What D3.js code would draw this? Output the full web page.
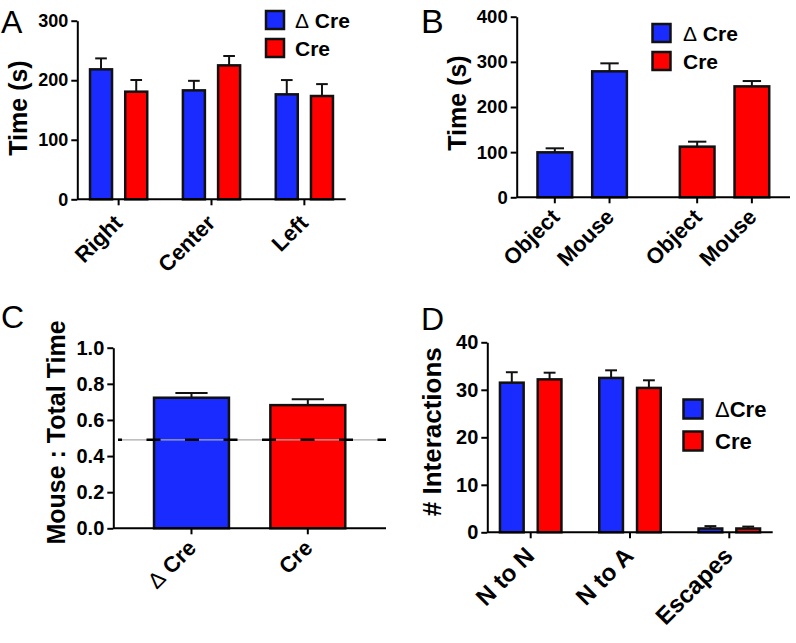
<!DOCTYPE html>
<html><head><meta charset="utf-8">
<script src="https://cdn.jsdelivr.net/npm/d3@7"></script>
<style>
body{margin:0;background:#fff}
svg text{font-family:"Liberation Sans",Arial,Helvetica,sans-serif;fill:#000}
</style>
</head><body><svg id="chart" width="796" height="643"></svg>
<script>
// ---------------- DATA ----------------
const seriesNames = ["Δ Cre", "Cre"];
const legendNamesD = ["ΔCre", "Cre"];

// Panel A
const catsA = ["Right", "Center", "Left"];
const dCreA = [218.3, 183, 176.3];
const dCreSemA = [18.4, 16, 24];
const creA = [180.8, 225, 173.5];
const creSemA = [19.6, 15.7, 20];
const ticksA = [0, 100, 200, 300];

// Panel B
const groupsB = ["Δ Cre", "Cre"];
const catsB = ["Object", "Mouse"];
const dCreB = [99.6, 279];
const dCreSemB = [8.9, 17.7];
const creB = [112.2, 245.7];
const creSemB = [11, 11.8];
const ticksB = [0, 100, 200, 300, 400];

// Panel C
const catsC = ["Δ Cre", "Cre"];
const valuesC = [0.723, 0.682];
const semC = [0.026, 0.032];
const refC = 0.49;
const ticksC = [0, 0.2, 0.4, 0.6, 0.8, 1.0];

// Panel D
const catsD = ["N to N", "N to A", "Escapes"];
const dCreD = [31.5, 32.5, 0.8];
const dCreSemD = [2.2, 1.6, 0.5];
const creD = [32.2, 30.4, 0.8];
const creSemD = [1.4, 1.6, 0.4];
const ticksD = [0, 10, 20, 30, 40];

// ---------------- STYLE ----------------
const BLUE = "#1a2bff", RED = "#ff0000";
const FONT = '"Liberation Sans",Arial,Helvetica,sans-serif';
const svg = d3.select("#chart");

function richText(sel, str) {
  sel.style("font-weight", "bold");
  if (str.startsWith("Δ")) {
    sel.append("tspan").style("font-weight", "normal").text("Δ");
    sel.append("tspan").style("font-weight", "bold").text(str.slice(1));
  } else sel.text(str);
}

function yAxis(x0, y, ticks, fmt, fs) {
  const g = svg.append("g").attr("transform", `translate(${x0},0)`)
    .call(d3.axisLeft(y).tickValues(ticks).tickFormat(fmt).tickSize(6).tickSizeOuter(0).tickPadding(3));
  g.attr("font-family", FONT).attr("font-size", fs);
  g.select(".domain").attr("stroke", "#000").attr("stroke-width", 2);
  g.selectAll(".tick line").attr("stroke", "#000").attr("stroke-width", 2);
  g.selectAll(".tick text").style("font-weight", "bold").attr("fill", "#000");
}

function xAxisLine(xr, y0) {
  svg.append("line").attr("x1", xr[0]).attr("x2", xr[1]).attr("y1", y0).attr("y2", y0)
    .attr("stroke", "#000").attr("stroke-width", 2);
}

function xTicks(positions, labels, y0, fs, dx, dy) {
  positions.forEach((p, i) => {
    svg.append("line").attr("x1", p).attr("x2", p).attr("y1", y0).attr("y2", y0 + 6)
      .attr("stroke", "#000").attr("stroke-width", 2);
    const t = svg.append("text")
      .attr("transform", `translate(${p + dx},${y0 + dy}) rotate(-45)`)
      .attr("text-anchor", "end").attr("font-size", fs);
    richText(t, labels[i]);
  });
}

function bar(x, w, v, e, color, y, capFrac) {
  svg.append("rect").attr("x", x).attr("y", y(v)).attr("width", w).attr("height", y(0) - y(v))
    .attr("fill", color).attr("stroke", "#111").attr("stroke-width", 2.5);
  const cx = x + w / 2, cw = w * capFrac / 2;
  svg.append("line").attr("x1", cx).attr("x2", cx).attr("y1", y(v)).attr("y2", y(v + e))
    .attr("stroke", "#111").attr("stroke-width", 2);
  svg.append("line").attr("x1", cx - cw).attr("x2", cx + cw).attr("y1", y(v + e)).attr("y2", y(v + e))
    .attr("stroke", "#111").attr("stroke-width", 2);
}

function yTitle(txt, x, y, fs) {
  svg.append("text").attr("transform", `translate(${x},${y}) rotate(-90)`)
    .attr("text-anchor", "middle").attr("font-size", fs).style("font-weight", "bold").text(txt);
}

function panelLabel(txt, x, y, fs) {
  svg.append("text").attr("x", x).attr("y", y).attr("font-size", fs)
    .style("font-weight", "normal").text(txt);
}

function legend(x, ys, size, labels, colors, tx, fs) {
  labels.forEach((l, i) => {
    svg.append("rect").attr("x", x).attr("y", ys[i]).attr("width", size).attr("height", size)
      .attr("fill", colors[i]).attr("stroke", "#111").attr("stroke-width", 2.5);
    const t = svg.append("text").attr("x", tx).attr("y", ys[i] + size - 1.5).attr("font-size", fs);
    richText(t, l);
  });
}

const colors = [BLUE, RED];

// ---------------- PANEL A ----------------
{
  const x = d3.scalePoint().domain(catsA).range([77.3, 345.7]).padding(0.445);
  const xi = d3.scaleBand().domain(seriesNames).range([-28.6, 28.6]).paddingInner(0.375);
  const y = d3.scaleLinear().domain([0, 300]).range([199.3, 20.7]);
  const series = [[dCreA, dCreSemA], [creA, creSemA]];
  series.forEach((s, si) => catsA.forEach((c, i) =>
    bar(x(c) + xi(seriesNames[si]), xi.bandwidth(), s[0][i], s[1][i], colors[si], y, 0.53)));
  xAxisLine(x.range(), y(0));
  yAxis(77.3, y, ticksA, d3.format("d"), 18);
  xTicks(catsA.map(c => x(c)), catsA, y(0), 22, 5, 25);
  yTitle("Time (s)", 27, 108, 25);
  panelLabel("A", 1, 33, 32);
  legend(266, [11, 39], 18, seriesNames, colors, 295, 21);
}

// ---------------- PANEL B ----------------
{
  const x = d3.scalePoint().domain(groupsB).range([516.7, 790]).padding(0.46);
  const xi = d3.scaleBand().domain(catsB).range([-44.7, 44.7]).paddingInner(0.366);
  const y = d3.scaleLinear().domain([0, 400]).range([197.3, 16.7]);
  const series = [[dCreB, dCreSemB], [creB, creSemB]];
  const tickPos = [], tickLab = [];
  groupsB.forEach((g, gi) => catsB.forEach((c, i) => {
    const bx = x(g) + xi(c);
    bar(bx, xi.bandwidth(), series[gi][0][i], series[gi][1][i], colors[gi], y, 0.53);
    tickPos.push(bx + xi.bandwidth() / 2); tickLab.push(c);
  }));
  xAxisLine(x.range(), y(0));
  yAxis(516.7, y, ticksB, d3.format("d"), 18.5);
  xTicks(tickPos, tickLab, y(0), 22, 6, 21);
  yTitle("Time (s)", 466, 103, 25);
  panelLabel("B", 421, 33, 34);
  legend(652.5, [24, 52], 18, seriesNames, colors, 683, 21);
}

// ---------------- PANEL C ----------------
{
  const x = d3.scaleBand().domain(catsC).range([113.3, 386]).paddingInner(0.356).paddingOuter(0.35);
  const y = d3.scaleLinear().domain([0, 1]).range([528.3, 347.7]);
  catsC.forEach((c, i) => bar(x(c), x.bandwidth(), valuesC[i], semC[i], colors[i], y, 0.43));
  xAxisLine(x.range(), y(0));
  yAxis(113.3, y, ticksC, d3.format(".1f"), 20);
  // reference line at chance level
  svg.append("line").attr("x1", 118).attr("x2", 386).attr("y1", y(refC)).attr("y2", y(refC))
    .attr("stroke", "#aaaaaa").attr("stroke-width", 1.2);
  svg.append("line").attr("x1", 118).attr("x2", 386).attr("y1", y(refC)).attr("y2", y(refC))
    .attr("stroke", "#000").attr("stroke-width", 2.6).attr("stroke-dasharray", "14,24.5")
    .attr("stroke-dashoffset", 10);
  xTicks(catsC.map(c => x(c) + x.bandwidth() / 2), catsC, y(0), 22, 6, 21);
  yTitle("Mouse : Total Time", 65, 432.5, 25);
  panelLabel("C", 1, 328, 32);
}

// ---------------- PANEL D ----------------
{
  const x = d3.scalePoint().domain(catsD).range([487.3, 772.7]).padding(0.437);
  const xi = d3.scaleBand().domain(seriesNames).range([-30.75, 30.75]).paddingInner(0.373);
  const y = d3.scaleLinear().domain([0, 40]).range([532.3, 342.3]);
  const series = [[dCreD, dCreSemD], [creD, creSemD]];
  series.forEach((s, si) => catsD.forEach((c, i) =>
    bar(x(c) + xi(seriesNames[si]), xi.bandwidth(), s[0][i], s[1][i], colors[si], y, 0.5)));
  xAxisLine(x.range(), y(0));
  yAxis(487.3, y, ticksD, d3.format("d"), 20);
  xTicks(catsD.map(c => x(c)), catsD, y(0), 24, 5, 25);
  yTitle("# Interactions", 441, 431.7, 26);
  panelLabel("D", 421, 330, 32);
  legend(683.5, [399.5, 431.5], 19, legendNamesD, colors, 715, 22);
}
</script></body></html>
